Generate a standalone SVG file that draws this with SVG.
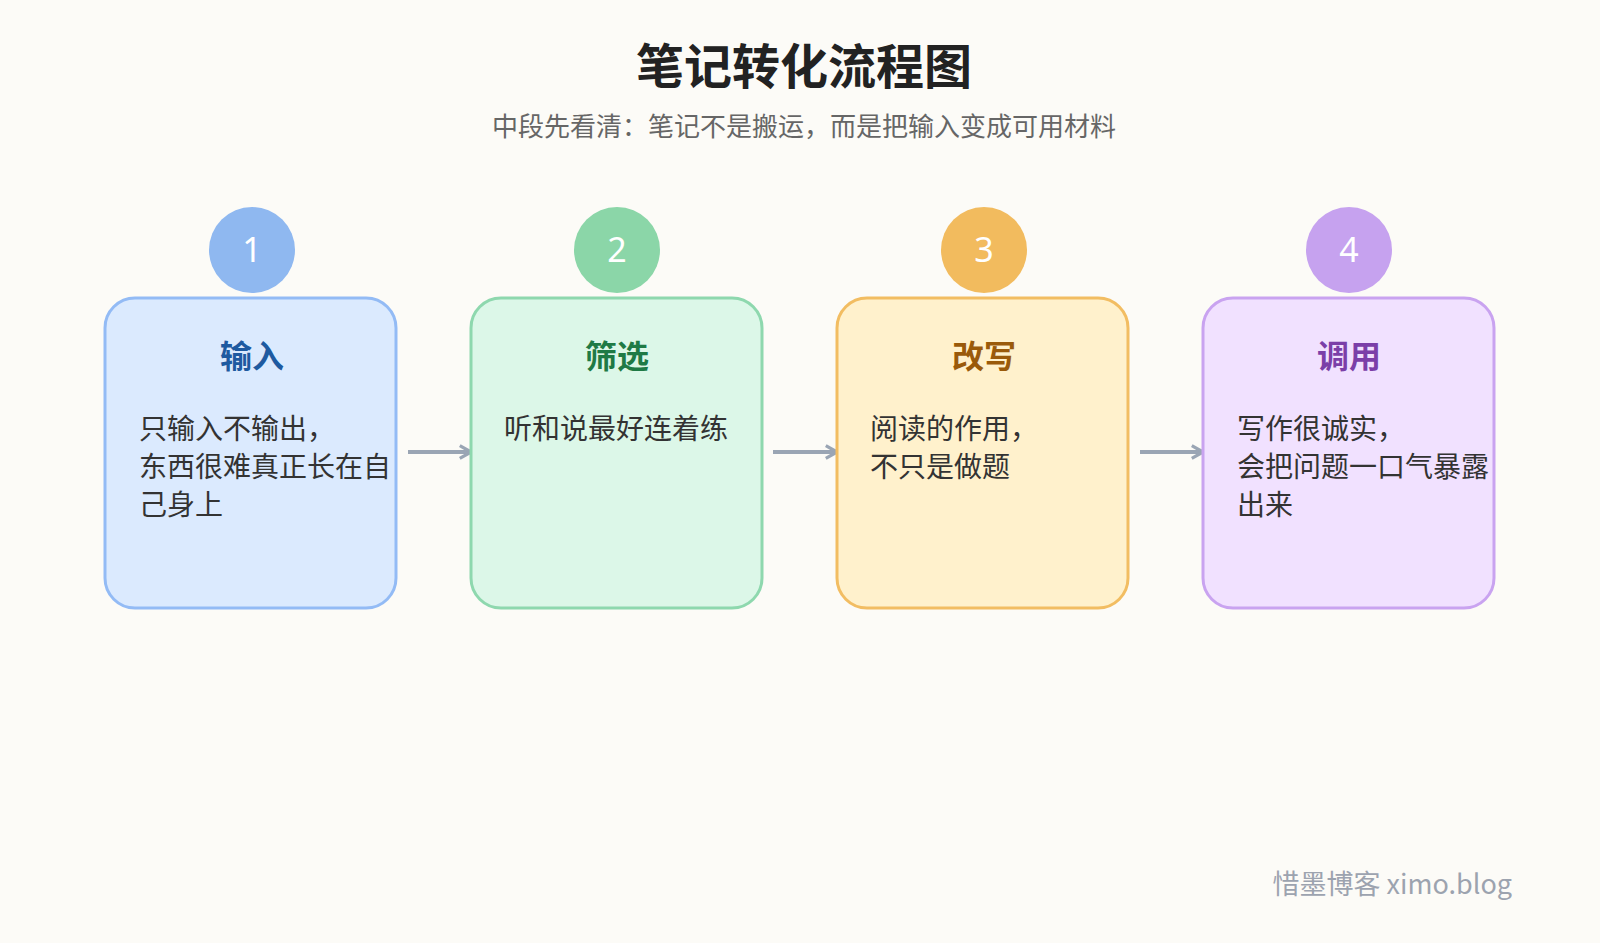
<svg xmlns="http://www.w3.org/2000/svg" width="1600" height="943" viewBox="0 0 1600 943">
<style>
text{font-family:"Noto Sans CJK SC","Noto Sans",sans-serif}
.box{stroke-width:3}
.num{font-family:"Noto Sans",sans-serif;font-size:34px;fill:#fff;text-anchor:middle}
.t{font-size:32px;font-weight:bold;text-anchor:middle}
.b{font-size:28px;fill:#333}
.c{stroke:#9aa5b4;stroke-width:4;fill:none}
</style>
<defs><marker id="ar" viewBox="0 0 10 10" refX="8" refY="5" markerWidth="4" markerHeight="4" orient="auto"><path d="M1,1 L8,5 L1,9" fill="none" stroke="#9aa5b4" stroke-width="2"/></marker></defs>
<rect width="1600" height="943" fill="#fcfbf7"/>
<text x="804" y="84" font-size="48" font-weight="bold" text-anchor="middle" fill="#222">笔记转化流程图</text>
<text x="804" y="136" font-size="26" text-anchor="middle" fill="#666">中段先看清：笔记不是搬运，而是把输入变成可用材料</text>
<g id="connectors">
<line class="c" x1="408" y1="452" x2="471" y2="452" marker-end="url(#ar)"/>
<line class="c" x1="773" y1="452" x2="837" y2="452" marker-end="url(#ar)"/>
<line class="c" x1="1140" y1="452" x2="1203" y2="452" marker-end="url(#ar)"/>
</g>
<g id="n1"><rect class="box" x="105" y="298" width="291" height="310" rx="30" fill="#dbeafe" stroke="#93bbf5"/><circle cx="252" cy="250" r="43" fill="#8fb8f0"/><text class="num" x="252" y="262">1</text><text class="t" x="252" y="368" fill="#1e5aa0">输入</text><text class="b" x="139" y="439">只输入不输出，</text><text class="b" x="139" y="477">东西很难真正长在自</text><text class="b" x="139" y="515">己身上</text></g>
<g id="n2"><rect class="box" x="471" y="298" width="291" height="310" rx="30" fill="#dcf7e8" stroke="#8ed8ae"/><circle cx="617" cy="250" r="43" fill="#8bd6a8"/><text class="num" x="617" y="262">2</text><text class="t" x="617" y="368" fill="#1f7a45">筛选</text><text class="b" x="504" y="439">听和说最好连着练</text></g>
<g id="n3"><rect class="box" x="837" y="298" width="291" height="310" rx="30" fill="#fff1cc" stroke="#f2bd62"/><circle cx="984" cy="250" r="43" fill="#f2bb5e"/><text class="num" x="984" y="262">3</text><text class="t" x="984" y="368" fill="#9a5a0a">改写</text><text class="b" x="870" y="439">阅读的作用，</text><text class="b" x="870" y="477">不只是做题</text></g>
<g id="n4"><rect class="box" x="1203" y="298" width="291" height="310" rx="30" fill="#f1e1ff" stroke="#c9a3f0"/><circle cx="1349" cy="250" r="43" fill="#c6a2ef"/><text class="num" x="1349" y="262">4</text><text class="t" x="1349" y="368" fill="#7b3fa8">调用</text><text class="b" x="1237" y="439">写作很诚实，</text><text class="b" x="1237" y="477">会把问题一口气暴露</text><text class="b" x="1237" y="515">出来</text></g>
<text x="1512" y="894" font-size="27" text-anchor="end" fill="#9ca3af">惜墨博客 ximo.blog</text>
</svg>
